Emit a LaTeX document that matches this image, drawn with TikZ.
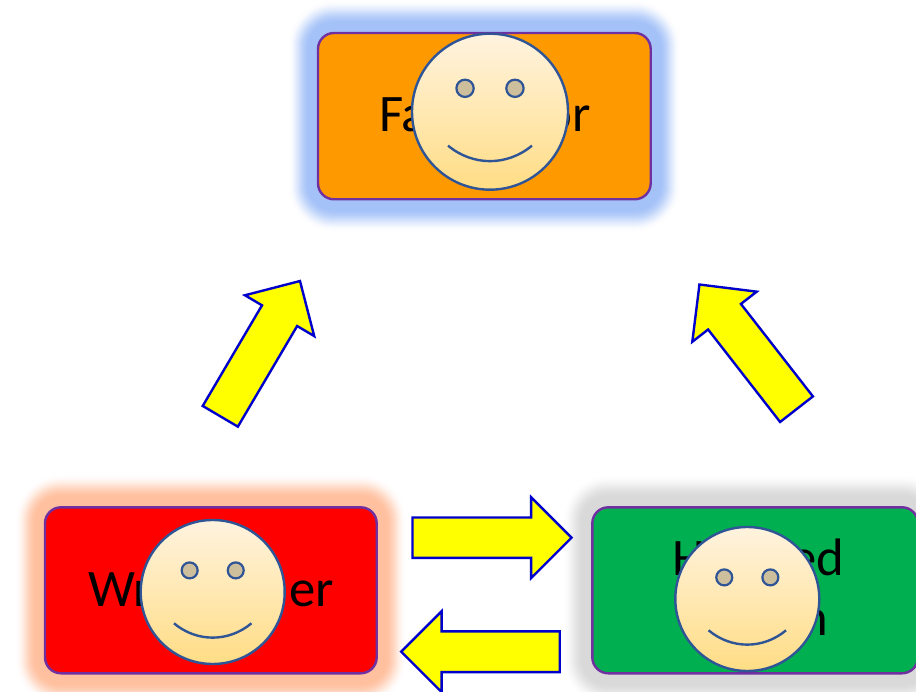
\documentclass[tikz,border=0pt]{standalone}
\usepackage{fontspec}
\setmainfont{Carlito}
\usetikzlibrary{shapes.arrows}
\definecolor{facetop}{HTML}{FFF3DF}
\definecolor{facebot}{HTML}{FFDD85}
\definecolor{faceline}{HTML}{2F5597}
\definecolor{eyefill}{HTML}{CDBE9C}
\definecolor{boxline}{HTML}{7030A0}
\definecolor{arrowline}{HTML}{0000CC}
\definecolor{arrowfill}{HTML}{FFFF00}
\definecolor{glowblue}{HTML}{A4C2F8}
\definecolor{glowred}{HTML}{FFC09F}
\definecolor{glowgrey}{HTML}{D9D9D9}
\definecolor{boxorange}{HTML}{FF9900}
\definecolor{boxgreen}{HTML}{00B050}
\definecolor{boxred}{HTML}{FF0000}
\tikzset{
  every node/.style={outer sep=0pt,inner sep=0pt},
  rolebox/.style={draw=boxline,line width=2.4pt,rounded corners=16pt,anchor=north west},
  rolelabel/.style={anchor=base,font=\fontsize{52.7}{59}\selectfont,text=black},
  facecircle/.style={circle,draw=faceline,line width=2.4pt,top color=facetop,bottom color=facebot},
  eyecircle/.style={circle,draw=faceline,line width=2.2pt,fill=eyefill},
  blockarrow/.style={single arrow,draw=arrowline,fill=arrowfill,line width=2.4pt,
    single arrow head indent=0pt,anchor=tail,inner xsep=0pt},
}
% soft halo around a box
\newcommand{\softglow}[5]{%
  \foreach \e in {30,29,...,9}{%
    \pgfmathsetmacro{\t}{(30-\e)/21}%
    \pgfmathsetmacro{\pct}{100*\t*\t*(3-2*\t)}%
    \fill[#5!\pct!white,rounded corners={16pt+\e pt}] (#1-\e,#2-\e*1.1) rectangle (#3+\e,#4+\e*1.1);
  }%
}
% smiley: name, centre x, centre y, radius
\newcommand{\smiley}[4]{%
  \node[facecircle,minimum size=#4*2pt] (#1) at (#2,#3) {};
  \node[eyecircle,minimum size=#4*0.222pt] (#1eyeL) at (#2-#4*0.32,#3-#4*0.30) {};
  \node[eyecircle,minimum size=#4*0.222pt] (#1eyeR) at (#2+#4*0.32,#3-#4*0.30) {};
  \coordinate (#1smileL) at (#2-#4*0.538,#3+#4*0.435);
  \coordinate (#1smileR) at (#2+#4*0.538,#3+#4*0.435);
  \draw[faceline,line width=2.4pt] (#1smileL) .. controls (#2-#4*0.22,#3+#4*0.70) and (#2+#4*0.22,#3+#4*0.70) .. (#1smileR);
}
\begin{document}
\begin{tikzpicture}[x=1pt,y=-1pt]
\useasboundingbox (0,0) rectangle (916,692);
\clip (0,0) rectangle (916,692);
\fill[white] (0,0) rectangle (916,692);
% halos
\softglow{318}{33}{650.7}{199.3}{glowblue}
\softglow{45}{507.3}{376.7}{673.3}{glowred}
\softglow{592.3}{507.3}{918}{673.3}{glowgrey}
% boxes
\node[rolebox,fill=boxorange,minimum width=332.7pt,minimum height=166.3pt] (fac) at (318,33) {};
\node[rolebox,fill=boxred,minimum width=331.7pt,minimum height=166pt] (wri) at (45,507.3) {};
\node[rolebox,fill=boxgreen,minimum width=325.7pt,minimum height=166pt] (hos) at (592.3,507.3) {};
% labels
\node[rolelabel] (facl) at (485,131.7) {Facilitator};
\node[rolelabel] (wril) at (211,606) {\makebox[246pt]{Wr\hfill er}};
\node[rolelabel] (hosl1) at (758.5,575.7) {\makebox[172pt]{H\hfill ed}};
\node[rolelabel] (hosl2) at (758.5,635) {\makebox[140pt][r]{n}};
% faces
\smiley{facf}{490}{111.7}{78}
\smiley{wrif}{212.7}{592}{72}
\smiley{hosf}{747.3}{599}{72}
% arrows
\node[blockarrow,inner ysep=19.2pt,minimum height=157pt,single arrow head extend=19.8pt,rotate=59.5] (a1) at (220.3,416.3) {};
\node[blockarrow,inner ysep=19.6pt,minimum height=158pt,single arrow head extend=20pt,rotate=127.9] (a2) at (796.5,409.2) {};
\node[blockarrow,inner ysep=19pt,minimum height=159pt,single arrow head extend=20.2pt] (a3) at (412.5,537.7) {};
\node[blockarrow,inner ysep=19.2pt,minimum height=158.5pt,single arrow head extend=20pt,rotate=180] (a4) at (559.7,651.7) {};
\end{tikzpicture}
\end{document}
